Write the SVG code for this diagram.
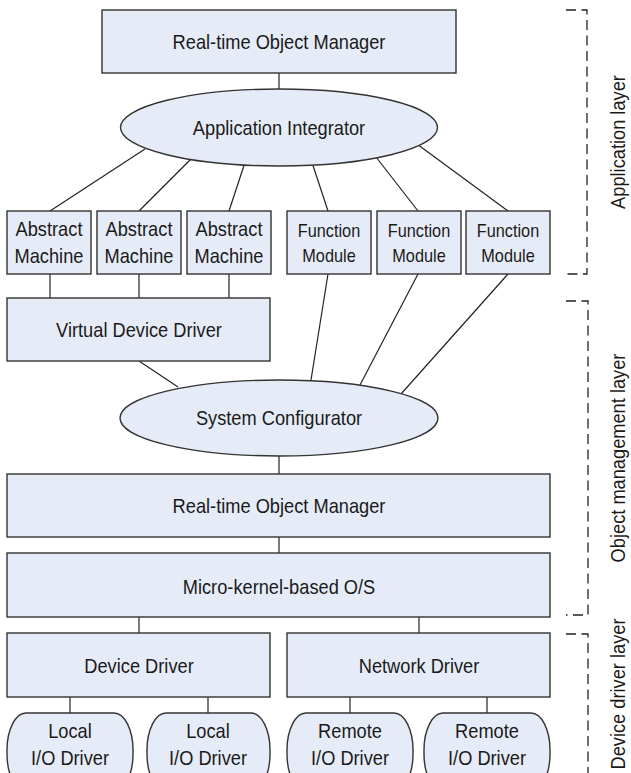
<svg xmlns="http://www.w3.org/2000/svg" width="631" height="773" viewBox="0 0 631 773">
  <style>
    .box { fill: #e6ecf7; stroke: #333333; stroke-width: 1.4; }
    .wire { stroke: #222222; stroke-width: 1.2; fill: none; }
    .bracket { stroke: #222222; stroke-width: 1.3; fill: none; stroke-dasharray: 10 5.5; }
    .t { font-family: "Liberation Sans", Arial, sans-serif; font-size: 18.25px; fill: #1a1a1a; text-anchor: middle; }
    .s { font-size: 16.3px; }
  </style>
  <rect width="631" height="773" fill="#ffffff"/>

  <!-- connectors -->
  <g id="connectors">
    <line class="wire" x1="279" y1="73" x2="279" y2="89"/>
    <line class="wire" x1="145" y1="149" x2="50" y2="211"/>
    <line class="wire" x1="191" y1="159" x2="139" y2="211"/>
    <line class="wire" x1="244" y1="165.5" x2="229" y2="211"/>
    <line class="wire" x1="313" y1="165.5" x2="328" y2="211"/>
    <line class="wire" x1="376" y1="157" x2="418" y2="211"/>
    <line class="wire" x1="419" y1="145.5" x2="508" y2="211"/>
    <line class="wire" x1="50" y1="274" x2="50" y2="298"/>
    <line class="wire" x1="139" y1="274" x2="139" y2="298"/>
    <line class="wire" x1="229" y1="274" x2="229" y2="298"/>
    <line class="wire" x1="139" y1="361" x2="178" y2="387"/>
    <line class="wire" x1="328" y1="274" x2="311" y2="380"/>
    <line class="wire" x1="418" y1="274" x2="360" y2="385"/>
    <line class="wire" x1="508" y1="274" x2="401" y2="394"/>
    <line class="wire" x1="279" y1="456" x2="279" y2="474"/>
    <line class="wire" x1="279" y1="537" x2="279" y2="553"/>
    <line class="wire" x1="139" y1="617" x2="139" y2="633"/>
    <line class="wire" x1="419" y1="617" x2="419" y2="633"/>
    <line class="wire" x1="70" y1="697" x2="70" y2="713"/>
    <line class="wire" x1="208" y1="697" x2="208" y2="713"/>
    <line class="wire" x1="350" y1="697" x2="350" y2="713"/>
    <line class="wire" x1="487" y1="697" x2="487" y2="713"/>
  </g>

  <!-- application layer -->
  <g id="rtom-top">
    <rect class="box" x="102" y="10" width="354" height="63"/>
    <text class="t" transform="translate(279 49) scale(1 1.12)">Real-time Object Manager</text>
  </g>
  <g id="app-integrator">
    <ellipse class="box" cx="279" cy="127.5" rx="158.5" ry="38.5"/>
    <text class="t" transform="translate(279 135) scale(1 1.12)">Application Integrator</text>
  </g>
  <g id="abstract-machine-1">
    <rect class="box" x="7" y="211" width="84" height="63"/>
    <text class="t" transform="translate(49 236) scale(1 1.12)">Abstract</text>
    <text class="t" transform="translate(49 262.5) scale(1 1.12)">Machine</text>
  </g>
  <g id="abstract-machine-2">
    <rect class="box" x="97" y="211" width="84" height="63"/>
    <text class="t" transform="translate(139 236) scale(1 1.12)">Abstract</text>
    <text class="t" transform="translate(139 262.5) scale(1 1.12)">Machine</text>
  </g>
  <g id="abstract-machine-3">
    <rect class="box" x="187" y="211" width="84" height="63"/>
    <text class="t" transform="translate(229 236) scale(1 1.12)">Abstract</text>
    <text class="t" transform="translate(229 262.5) scale(1 1.12)">Machine</text>
  </g>
  <g id="function-module-1">
    <rect class="box" x="287" y="211" width="84" height="63"/>
    <text class="t s" transform="translate(329 237) scale(1 1.12)">Function</text>
    <text class="t s" transform="translate(329 261.5) scale(1 1.12)">Module</text>
  </g>
  <g id="function-module-2">
    <rect class="box" x="377" y="211" width="84" height="63"/>
    <text class="t s" transform="translate(419 237) scale(1 1.12)">Function</text>
    <text class="t s" transform="translate(419 261.5) scale(1 1.12)">Module</text>
  </g>
  <g id="function-module-3">
    <rect class="box" x="466" y="211" width="84" height="63"/>
    <text class="t s" transform="translate(508 237) scale(1 1.12)">Function</text>
    <text class="t s" transform="translate(508 261.5) scale(1 1.12)">Module</text>
  </g>

  <!-- object management layer -->
  <g id="virtual-device-driver">
    <rect class="box" x="7" y="298" width="263" height="63"/>
    <text class="t" transform="translate(139 337) scale(1 1.12)">Virtual Device Driver</text>
  </g>
  <g id="system-configurator">
    <ellipse class="box" cx="279" cy="418" rx="159" ry="38"/>
    <text class="t" transform="translate(279 425) scale(1 1.12)">System Configurator</text>
  </g>
  <g id="rtom-bottom">
    <rect class="box" x="7" y="474" width="543" height="63"/>
    <text class="t" transform="translate(279 513) scale(1 1.12)">Real-time Object Manager</text>
  </g>
  <g id="micro-kernel">
    <rect class="box" x="7" y="553" width="543" height="64"/>
    <text class="t" transform="translate(279 593.5) scale(1 1.12)">Micro-kernel-based O/S</text>
  </g>

  <!-- device driver layer -->
  <g id="device-driver">
    <rect class="box" x="7" y="633" width="263" height="64"/>
    <text class="t" transform="translate(139 672.5) scale(1 1.12)">Device Driver</text>
  </g>
  <g id="network-driver">
    <rect class="box" x="287" y="633" width="263" height="64"/>
    <text class="t" transform="translate(419 672.5) scale(1 1.12)">Network Driver</text>
  </g>
  <g id="local-io-1">
    <rect class="box" x="7" y="713" width="126" height="78" rx="19" ry="37"/>
    <text class="t" transform="translate(70 738) scale(1 1.12)">Local</text>
    <text class="t" transform="translate(70 765) scale(1 1.12)">I/O Driver</text>
  </g>
  <g id="local-io-2">
    <rect class="box" x="147" y="713" width="123" height="78" rx="19" ry="37"/>
    <text class="t" transform="translate(208 738) scale(1 1.12)">Local</text>
    <text class="t" transform="translate(208 765) scale(1 1.12)">I/O Driver</text>
  </g>
  <g id="remote-io-1">
    <rect class="box" x="287" y="713" width="126" height="78" rx="19" ry="37"/>
    <text class="t" transform="translate(350 738) scale(1 1.12)">Remote</text>
    <text class="t" transform="translate(350 765) scale(1 1.12)">I/O Driver</text>
  </g>
  <g id="remote-io-2">
    <rect class="box" x="424" y="713" width="126" height="78" rx="19" ry="37"/>
    <text class="t" transform="translate(487 738) scale(1 1.12)">Remote</text>
    <text class="t" transform="translate(487 765) scale(1 1.12)">I/O Driver</text>
  </g>

  <!-- layer brackets -->
  <g id="layer-brackets">
    <polyline class="bracket" points="566,10 587,10 587,274 566,274"/>
    <polyline class="bracket" points="566,301 588,301 588,615 566,615"/>
    <polyline class="bracket" points="566,634 588,634 588,780"/>
    <text class="t" transform="translate(625 142) rotate(-90) scale(1 1.12)">Application layer</text>
    <text class="t" transform="translate(625 458) rotate(-90) scale(1 1.12)">Object management layer</text>
    <text class="t" transform="translate(625 694) rotate(-90) scale(1 1.12)">Device driver layer</text>
  </g>
</svg>
